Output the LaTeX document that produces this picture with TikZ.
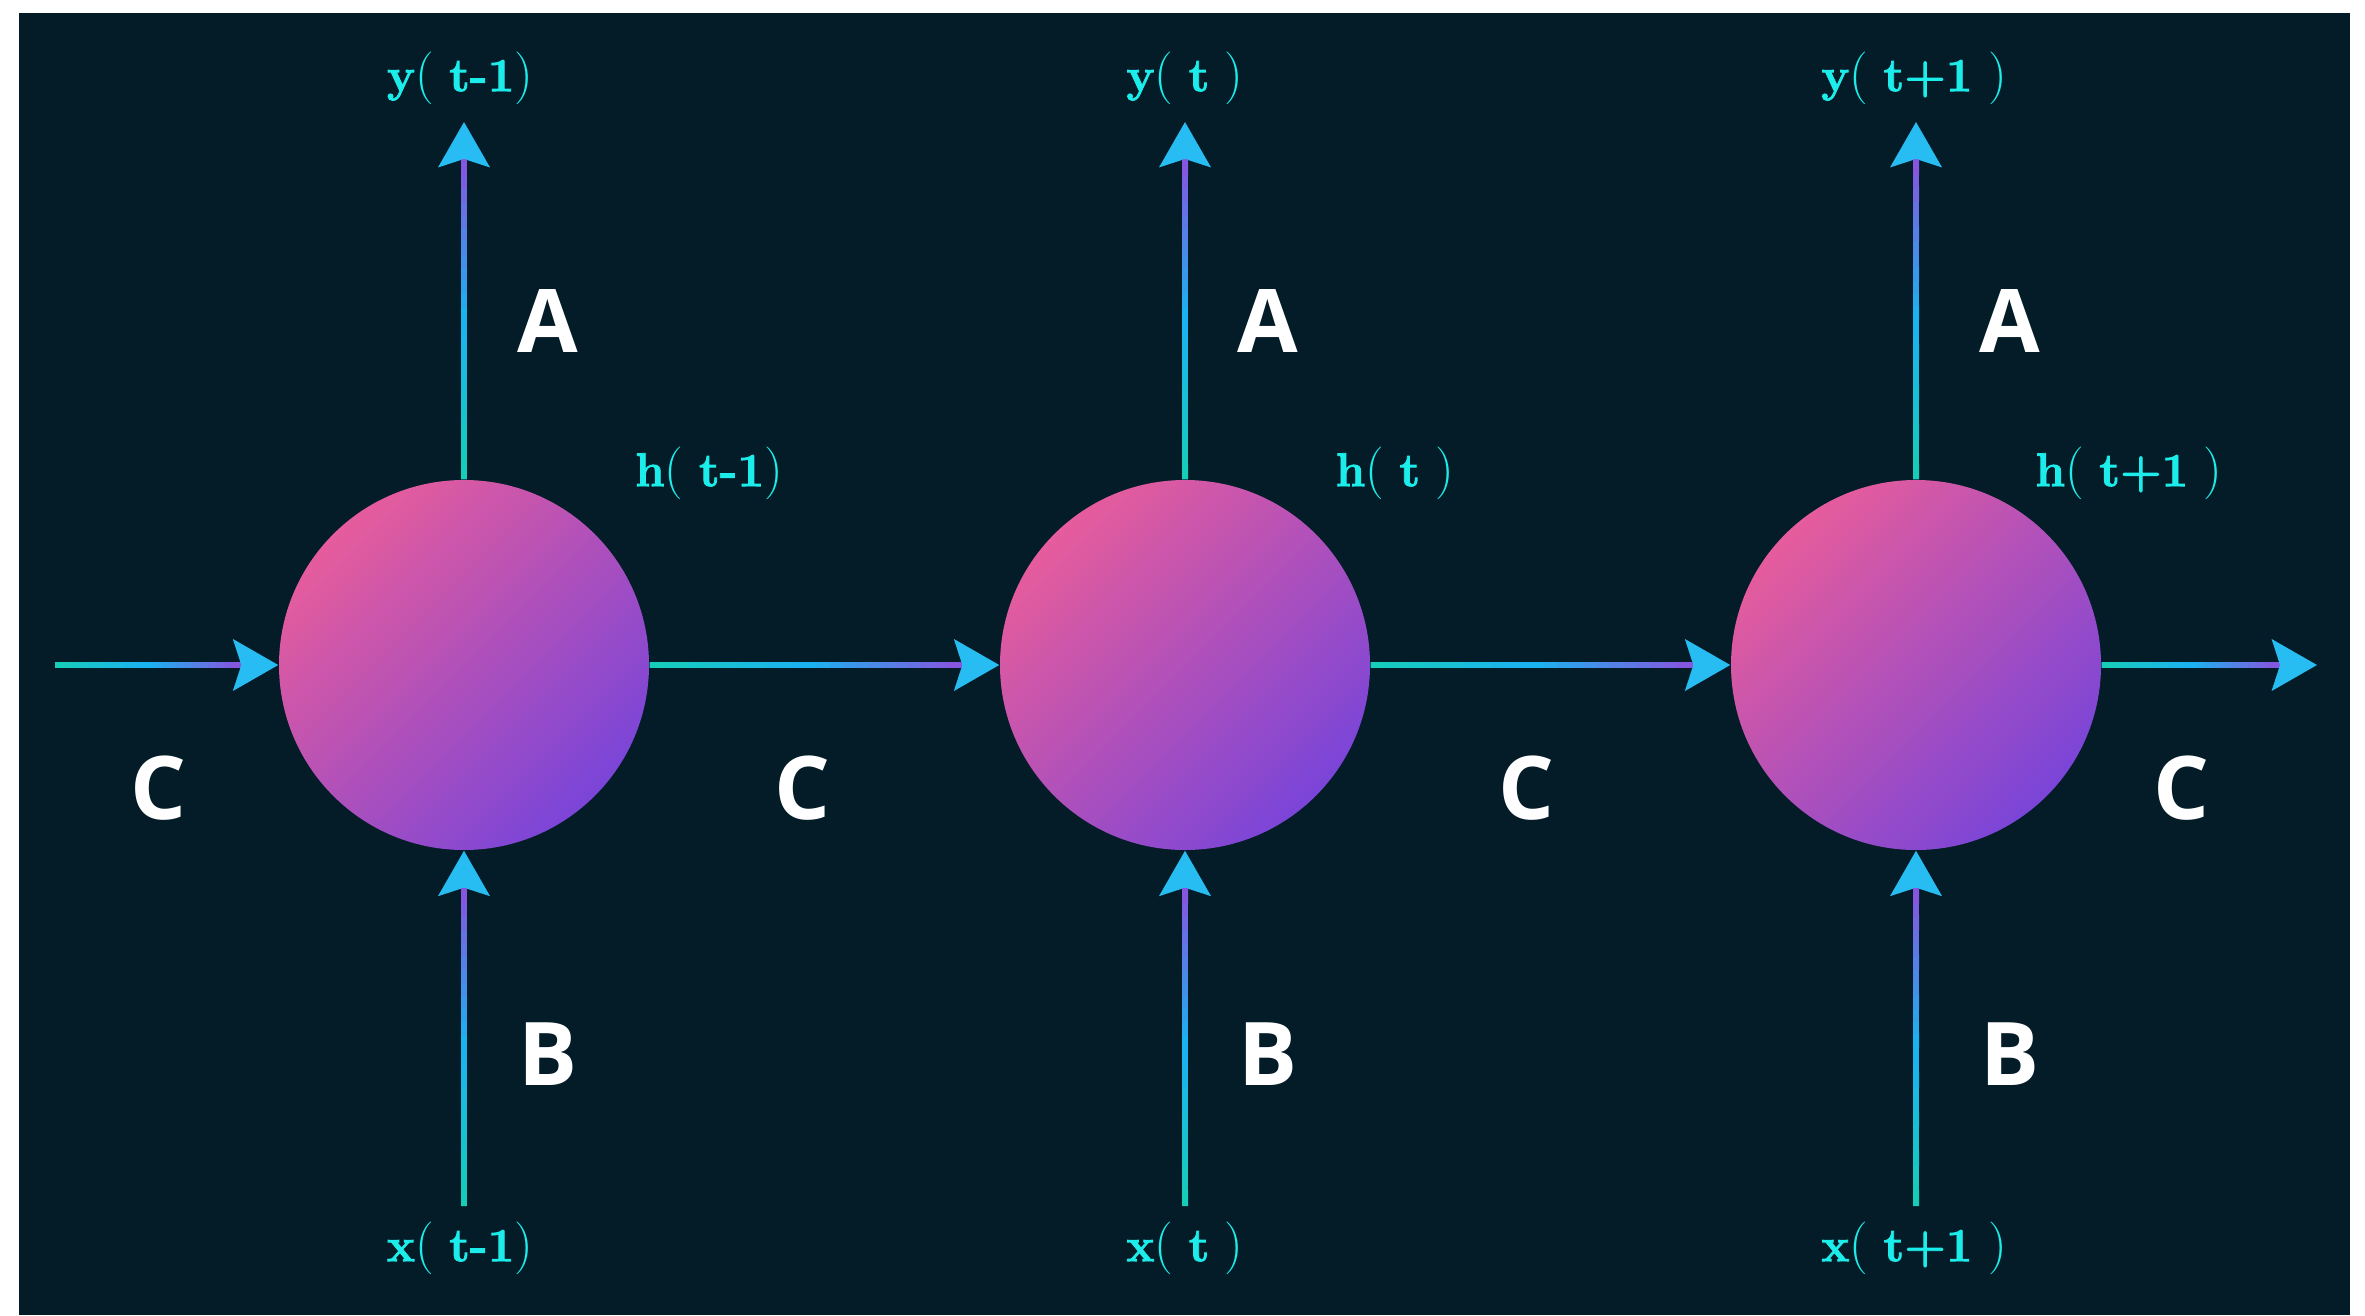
\documentclass[tikz,border=0pt]{standalone}
\usepackage{fontspec}
\setmainfont{Latin Modern Roman}[BoldFeatures={FakeBold=1.6}]
\newfontfamily\markfont{Open Sans}
\usetikzlibrary{arrows.meta,calc}
\definecolor{bgnavy}{HTML}{041C28}
\definecolor{cellpink}{HTML}{E65C9C}
\definecolor{cellviolet}{HTML}{7A45D8}
\definecolor{flowteal}{HTML}{16CDB9}
\definecolor{flowsky}{HTML}{1BB2F0}
\definecolor{flowviolet}{HTML}{8556E0}
\definecolor{tipblue}{HTML}{27BDF2}
\definecolor{labelcyan}{HTML}{1CEDEB}
\newcommand{\seqlp}{{\fontsize{15}{18}\selectfont(}}
\newcommand{\seqrp}{{\fontsize{15}{18}\selectfont)}}
\tikzset{
  cell/.style={circle, inner sep=0pt, minimum size=3.7cm, left color=cellpink, right color=cellviolet, shading angle=45},
  seq/.style={text=labelcyan, font=\fontsize{13.5}{16}\selectfont},
  weight/.style={text=white, font=\markfont\bfseries\fontsize{25}{30}\selectfont},
  flowbase/.style={line width=1.7pt, draw=flowviolet, -{Stealth[length=0.45cm, width=0.51cm, inset=0.08cm, color=tipblue]}},
  flowseg/.style={line width=1.7pt}
}
\newcommand{\flow}[2]{%
  \draw[flowbase] (#1) -- (#2);
  \coordinate (flowend) at ($(#2)!0.4cm!(#1)$);
  \foreach \k in {0,...,23}{%
    \ifnum\k<12 \pgfmathtruncatemacro{\pct}{\k*100/11}\def\mixcol{flowsky!\pct!flowteal}%
    \else \pgfmathtruncatemacro{\pct}{(\k-12)*100/11}\def\mixcol{flowviolet!\pct!flowsky}\fi
    \draw[flowseg, color=\mixcol] ($(#1)!\k/24!(flowend)$) -- ($(#1)!\k/24+0.05!(flowend)$);
  }
}
\begin{document}
\begin{tikzpicture}
\useasboundingbox (0,0) rectangle (23.65,13.15);
\fill[bgnavy] (0.19,0) rectangle (23.50,13.02);
\node[cell] (c1) at (4.64,6.50) {};
\node[cell] (c2) at (11.85,6.50) {};
\node[cell] (c3) at (19.16,6.50) {};
\coordinate (top1) at (4.64,11.93);
\coordinate (top2) at (11.85,11.93);
\coordinate (top3) at (19.16,11.93);
\coordinate (bot1) at (4.64,1.09);
\coordinate (bot2) at (11.85,1.09);
\coordinate (bot3) at (19.16,1.09);
\coordinate (hin) at (0.55,6.50);
\coordinate (hout) at (23.17,6.50);
\flow{c1.north}{top1}
\flow{c2.north}{top2}
\flow{c3.north}{top3}
\flow{bot1}{c1.south}
\flow{bot2}{c2.south}
\flow{bot3}{c3.south}
\flow{hin}{c1.west}
\flow{c1.east}{c2.west}
\flow{c2.east}{c3.west}
\flow{c3.east}{hout}
\node[seq] (y1) at (4.60,12.37) {\textbf{y}\seqlp\ \textbf{t-1}\seqrp};
\node[seq] (y2) at (11.85,12.37) {\textbf{y}\seqlp\ \textbf{t}\ \seqrp};
\node[seq] (y3) at (19.14,12.37) {\textbf{y}\seqlp\ \textbf{t+1}\ \seqrp};
\node[seq] (h1) at (7.09,8.42) {\textbf{h}\seqlp\ \textbf{t-1}\seqrp};
\node[seq] (h2) at (13.95,8.42) {\textbf{h}\seqlp\ \textbf{t}\ \seqrp};
\node[seq] (h3) at (21.29,8.42) {\textbf{h}\seqlp\ \textbf{t+1}\ \seqrp};
\node[seq] (x1) at (4.60,0.67) {\textbf{x}\seqlp\ \textbf{t-1}\seqrp};
\node[seq] (x2) at (11.85,0.67) {\textbf{x}\seqlp\ \textbf{t}\ \seqrp};
\node[seq] (x3) at (19.14,0.67) {\textbf{x}\seqlp\ \textbf{t+1}\ \seqrp};
\node[weight] (a1) at (5.48,9.94) {A};
\node[weight] (a2) at (12.68,9.94) {A};
\node[weight] (a3) at (20.10,9.94) {A};
\node[weight] (b1) at (5.48,2.61) {B};
\node[weight] (b2) at (12.68,2.61) {B};
\node[weight] (b3) at (20.10,2.61) {B};
\node[weight] (w0) at (1.58,5.27) {C};
\node[weight] (w1) at (8.02,5.27) {C};
\node[weight] (w2) at (15.26,5.27) {C};
\node[weight] (w3) at (21.81,5.27) {C};
\end{tikzpicture}
\end{document}
